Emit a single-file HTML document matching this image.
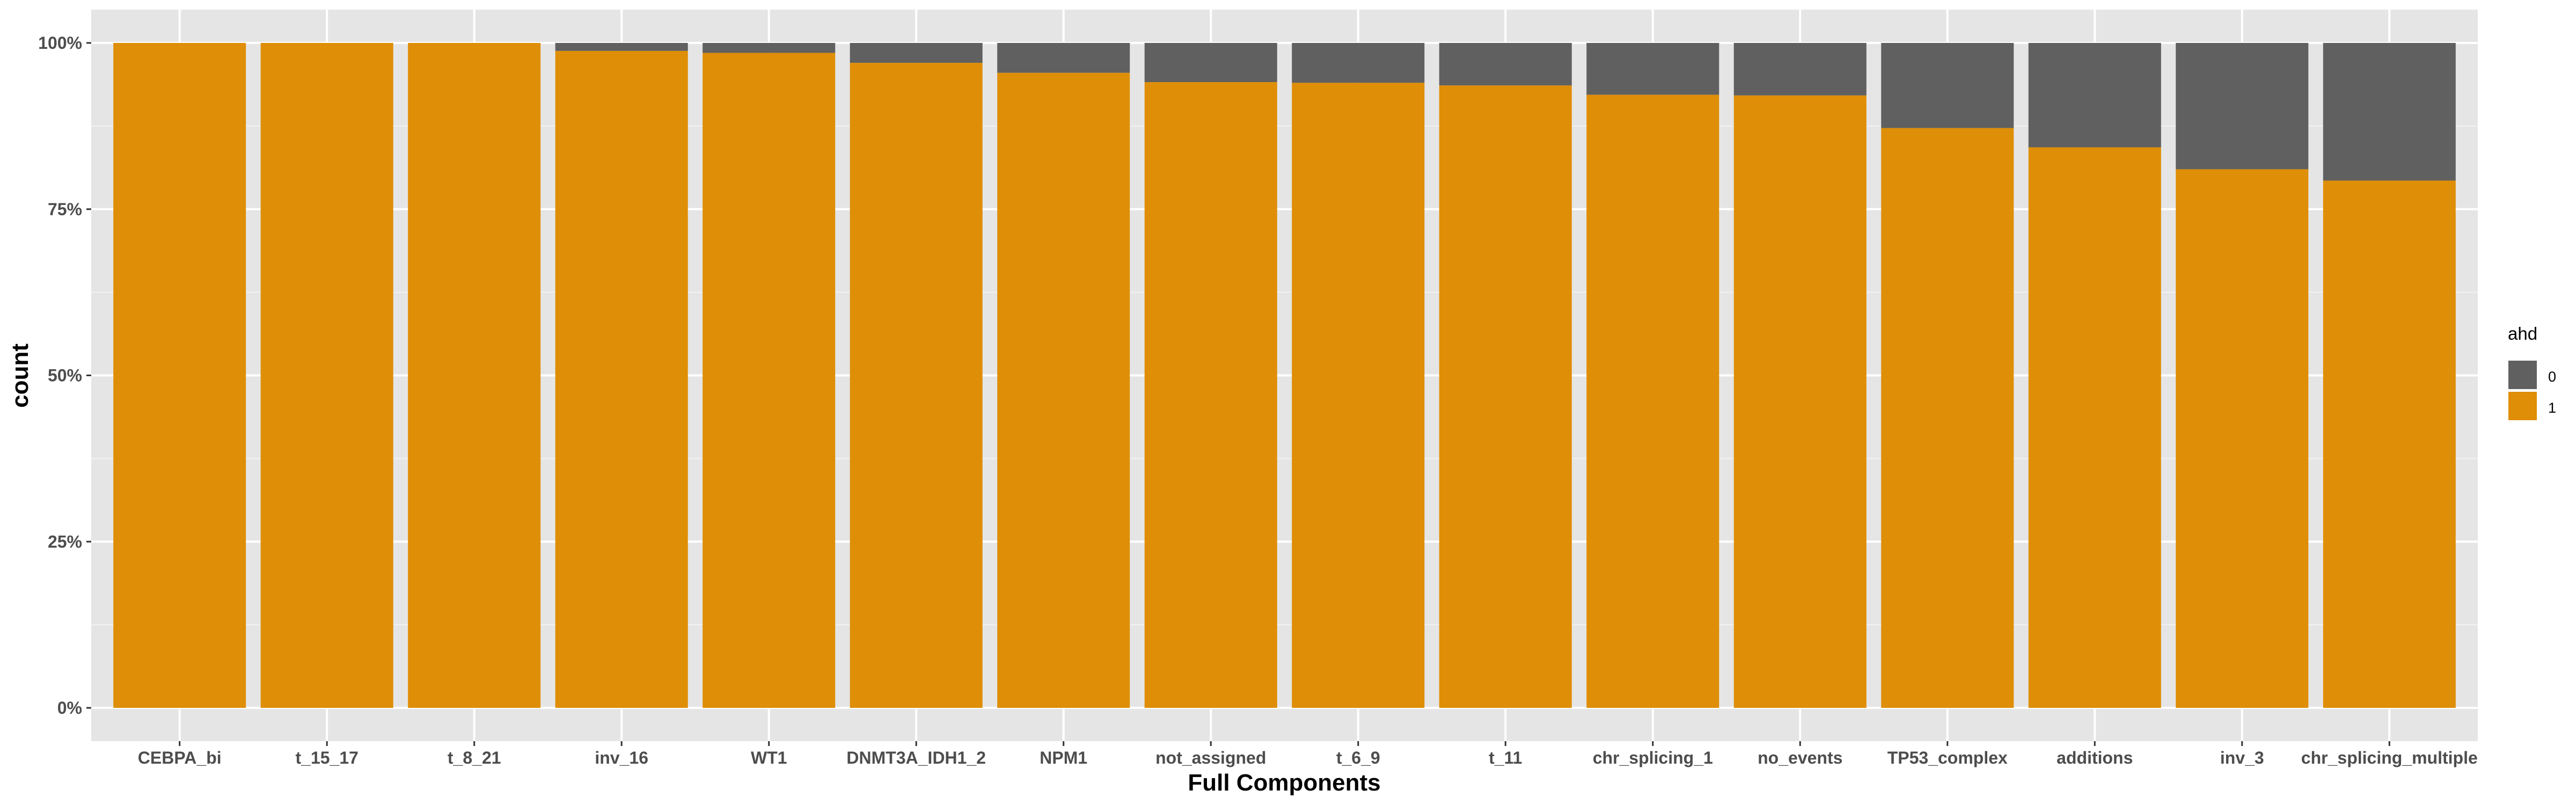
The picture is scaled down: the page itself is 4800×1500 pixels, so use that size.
<!DOCTYPE html>
<html><head><meta charset="utf-8"><style>
html,body{margin:0;padding:0;background:#fff;}
svg{display:block;font-family:"Liberation Sans",sans-serif;}
</style></head><body>
<svg id="chart" width="4800" height="1500" xmlns="http://www.w3.org/2000/svg">
<rect x="170" y="18" width="4447" height="1363" fill="#e5e5e5"/>
<g id="grid"></g><g id="bars"></g><g id="axes"></g>
<text x="2393" y="1473" text-anchor="middle" font-size="44" font-weight="bold" fill="#000">Full Components</text>
<text transform="translate(52,700) rotate(-90)" text-anchor="middle" font-size="44" font-weight="bold" fill="#000">count</text>
<g>
<text x="4673" y="633" font-size="33" fill="#000">ahd</text>
<rect x="4674" y="672" width="53" height="53" fill="#606060"/>
<rect x="4674" y="730" width="53" height="53" fill="#df8e07"/>
<text x="4748" y="711" font-size="27" fill="#000">0</text>
<text x="4748" y="769" font-size="27" fill="#000">1</text>
</g>
</svg>
<script>
const categories = ["CEBPA_bi","t_15_17","t_8_21","inv_16","WT1","DNMT3A_IDH1_2","NPM1","not_assigned","t_6_9","t_11","chr_splicing_1","no_events","TP53_complex","additions","inv_3","chr_splicing_multiple"];
const share1 = [1.0,1.0,1.0,0.988,0.985,0.970,0.955,0.941,0.940,0.936,0.922,0.921,0.872,0.843,0.810,0.793];
const yTicks = [0,0.25,0.5,0.75,1];
const yTickLabels = ["0%","25%","50%","75%","100%"];

const NS="http://www.w3.org/2000/svg";
const PL=170, PR=4617, Y0=1319, Y1=80;
const step=(PR-PL)/(categories.length-1+1.2);
function xs(i){return PL+step*(0.6+i);}
function ys(v){return Y0-(Y0-Y1)*v;}
function mk(tag,attrs,parent){const e=document.createElementNS(NS,tag);for(const k in attrs)e.setAttribute(k,attrs[k]);parent.appendChild(e);return e;}
const grid=document.getElementById('grid'),bars=document.getElementById('bars'),axes=document.getElementById('axes');
for(let i=0;i<yTicks.length-1;i++){
  const y=ys((yTicks[i]+yTicks[i+1])/2);
  const l=mk('line',{x1:PL,x2:PR,y1:y,y2:y,stroke:'#f2f2f2','stroke-width':2},grid);
  
  
}
yTicks.forEach((t,i)=>{
  const y=ys(t);
  const l=mk('line',{x1:PL,x2:PR,y1:y,y2:y,stroke:'#fff','stroke-width':4},grid);
  
  
  const tk=mk('line',{x1:PL-9,x2:PL,y1:y,y2:y,stroke:'#333','stroke-width':3},axes);
  
  
  const tx=mk('text',{x:PL-17,y:y+11,'text-anchor':'end','font-size':32,'font-weight':'bold',fill:'#4d4d4d'},axes);
  tx.textContent=yTickLabels[i];
  
  
});
categories.forEach((c,i)=>{
  const x=xs(i);
  const g=mk('line',{x1:x,x2:x,y1:18,y2:1381,stroke:'#fff','stroke-width':4},grid);
  
  
  const w=step*0.9, v=share1[i];
  const r0=mk('rect',{x:x-w/2,y:ys(1),width:w,height:ys(v)-ys(1),fill:'#606060'},bars);
  
  
  const r1=mk('rect',{x:x-w/2,y:ys(v),width:w,height:ys(0)-ys(v),fill:'#df8e07'},bars);
  
  
  const tk=mk('line',{x1:x,x2:x,y1:1381,y2:1390,stroke:'#333','stroke-width':3},axes);
  
  
  const tx=mk('text',{x:x,y:1423,'text-anchor':'middle','font-size':32,'font-weight':'bold',fill:'#4d4d4d'},axes);
  tx.textContent=c;
  
  
});
</script>
</body></html>
